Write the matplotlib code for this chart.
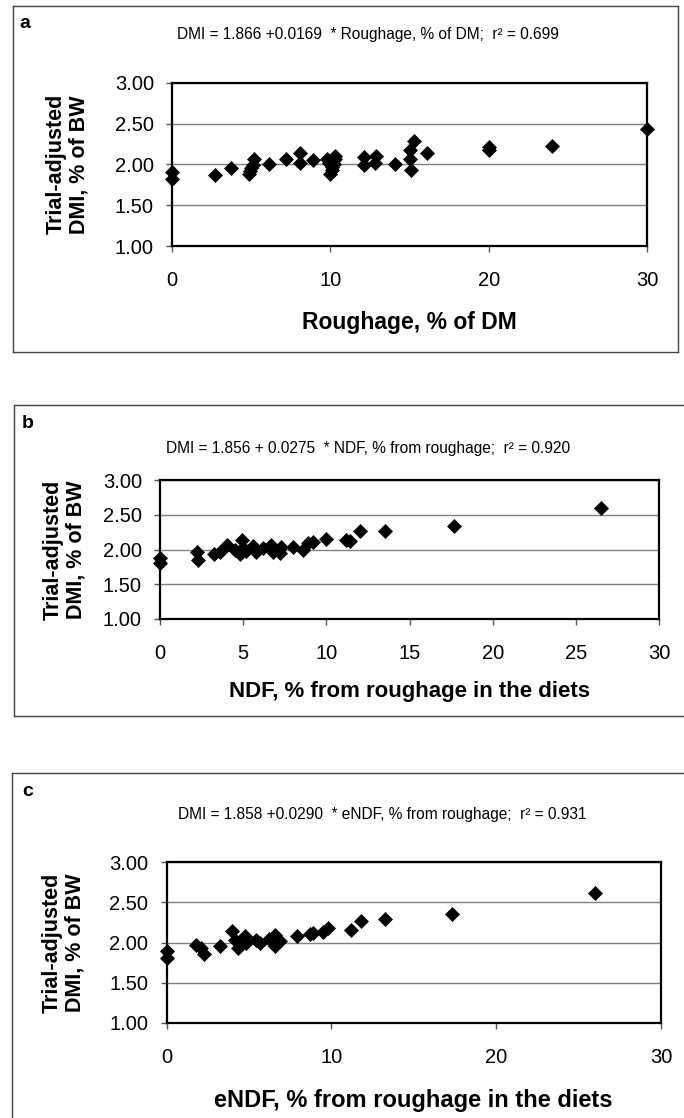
import matplotlib
matplotlib.use("Agg")
from matplotlib import pyplot as plt
from matplotlib.lines import Line2D

plt.rcParams['font.family'] = ['Liberation Sans', 'DejaVu Sans']

# panel a: roughage, % of DM
rough_x = [0, 0, 2.7, 3.7, 4.85, 4.9, 5.0, 5.1, 5.2, 6.1, 7.2, 8.1, 8.1, 8.9,
           9.8, 9.9, 10.0, 10.1, 10.1, 10.2, 10.3, 10.3, 12.1, 12.1, 12.8, 12.9,
           14.1, 15.0, 15.0, 15.1, 15.3, 16.1, 20.0, 20.0, 24.0, 30.0]
rough_y = [1.91, 1.82, 1.87, 1.95, 1.88, 1.92, 1.95, 1.99, 2.07, 2.00, 2.07, 2.14,
           2.02, 2.05, 2.06, 2.02, 1.88, 1.93, 1.97, 2.00, 2.06, 2.10, 2.09, 1.99,
           2.02, 2.10, 2.00, 2.17, 2.07, 1.93, 2.29, 2.14, 2.18, 2.21, 2.23, 2.43]

# panel b: NDF, % from roughage
ndf_x = [0, 0, 2.2, 2.3, 3.25, 3.6, 4.0, 4.5, 4.8, 4.9, 5.0, 5.2, 5.6, 5.8, 6.2,
         6.7, 6.8, 7.2, 7.3, 8.0, 8.6, 8.9, 9.2, 10.0, 11.2, 11.4, 12.0, 13.5,
         17.7, 26.5]
ndf_y = [1.88, 1.80, 1.96, 1.85, 1.93, 1.96, 2.06, 2.00, 1.93, 2.14, 2.02, 1.98,
         2.05, 1.96, 2.02, 2.07, 1.96, 1.95, 2.04, 2.04, 2.00, 2.10, 2.11, 2.15,
         2.14, 2.12, 2.26, 2.27, 2.34, 2.59]

# panel c: eNDF, % from roughage
endf_x = [0, 0, 1.8, 2.1, 2.3, 3.25, 4.0, 4.15, 4.35, 4.75, 4.85, 5.45, 5.65,
          6.2, 6.6, 6.6, 6.9, 7.9, 8.7, 8.9, 9.5, 9.8, 11.2, 11.8, 13.25, 17.3,
          26.0]
endf_y = [1.89, 1.81, 1.97, 1.93, 1.86, 1.96, 2.14, 2.03, 1.93, 2.08, 2.00, 2.03,
          2.00, 2.04, 2.09, 1.96, 2.02, 2.08, 2.11, 2.12, 2.13, 2.18, 2.16, 2.27,
          2.29, 2.35, 2.61]

yticks = [1.00, 1.50, 2.00, 2.50, 3.00]
ylab = 'Trial-adjusted\nDMI, % of BW'

W, H = 684, 1118
fig = plt.figure(figsize=(W / 100, H / 100), dpi=100)


def px(x0, y0, x1, y1):
    # pixel box (top-left origin) -> figure fraction rect
    return [x0 / W, 1 - y1 / H, (x1 - x0) / W, (y1 - y0) / H]


def panel(rect, x, y, xticks, xlabel, eq, eq_xy, letter, letter_xy,
          xlab_y, xlab_fs, ylab_x):
    ax = fig.add_axes(px(*rect))
    ax.plot(x, y, ls='none', marker='D', ms=6.8, color='black', mew=0.5,
            clip_on=False, zorder=3)
    ax.set_xlim(xticks[0], xticks[-1])
    ax.set_ylim(1, 3)
    ax.set_xticks(xticks)
    ax.set_yticks(yticks)
    ax.set_yticklabels(['%.2f' % v for v in yticks])
    ax.yaxis.grid(True, color='#808080', lw=1)
    ax.set_axisbelow(True)
    for s in ax.spines.values():
        s.set_linewidth(1.6)
    ax.tick_params(direction='out', length=4.5, width=1, labelsize=14.5,
                   color='#555555')
    ax.tick_params(axis='y', pad=8.5)
    ax.tick_params(axis='x', pad=13.5)
    fig.text(ylab_x / W, 1 - (rect[1] + rect[3]) / 2 / H, ylab, rotation=90,
             ha='center', va='center', fontsize=15.5, fontweight='bold',
             linespacing=1.1)
    fig.text((rect[0] + rect[2]) / 2 / W, 1 - xlab_y / H, xlabel, ha='center',
             va='center', fontsize=xlab_fs, fontweight='bold')
    fig.text(eq_xy[0] / W, 1 - eq_xy[1] / H, eq, ha='center', va='center',
             fontsize=11.2)
    fig.text(letter_xy[0] / W, 1 - letter_xy[1] / H, letter, ha='left',
             va='center', fontsize=14, fontweight='bold')
    return ax


def frame(x0, y0, x1, y1, right=True, bottom=True):
    segs = [((x0, x0), (y0, y1)), ((x0, x1), (y0, y0))]
    if right:
        segs.append(((x1, x1), (y0, y1)))
    if bottom:
        segs.append(((x0, x1), (y1, y1)))
    for xs, ys in segs:
        fig.add_artist(Line2D([v / W for v in xs], [1 - v / H for v in ys],
                              color='#444444', lw=1))


frame(12.7, 6, 678, 352)
frame(14, 405, 684, 716, right=False)
frame(11.7, 773, 684, 1130, right=False, bottom=False)

panel((172, 82.7, 647, 246), rough_x, rough_y, [0, 10, 20, 30],
      'Roughage, % of DM',
      'DMI = 1.866 +0.0169  * Roughage, % of DM;  r² = 0.699',
      (368, 35), 'a', (19, 24), 322, 16.5, 68)
panel((160, 480, 659, 619), ndf_x, ndf_y, [0, 5, 10, 15, 20, 25, 30],
      'NDF, % from roughage in the diets',
      'DMI = 1.856 + 0.0275  * NDF, % from roughage;  r² = 0.920',
      (368, 448), 'b', (22, 423), 692, 16.0, 65)
panel((166.5, 862, 661, 1023), endf_x, endf_y, [0, 10, 20, 30],
      'eNDF, % from roughage in the diets',
      'DMI = 1.858 +0.0290  * eNDF, % from roughage;  r² = 0.931',
      (382, 815), 'c', (22, 792), 1101, 17.0, 64)

plt.savefig('out.png', dpi=100)
